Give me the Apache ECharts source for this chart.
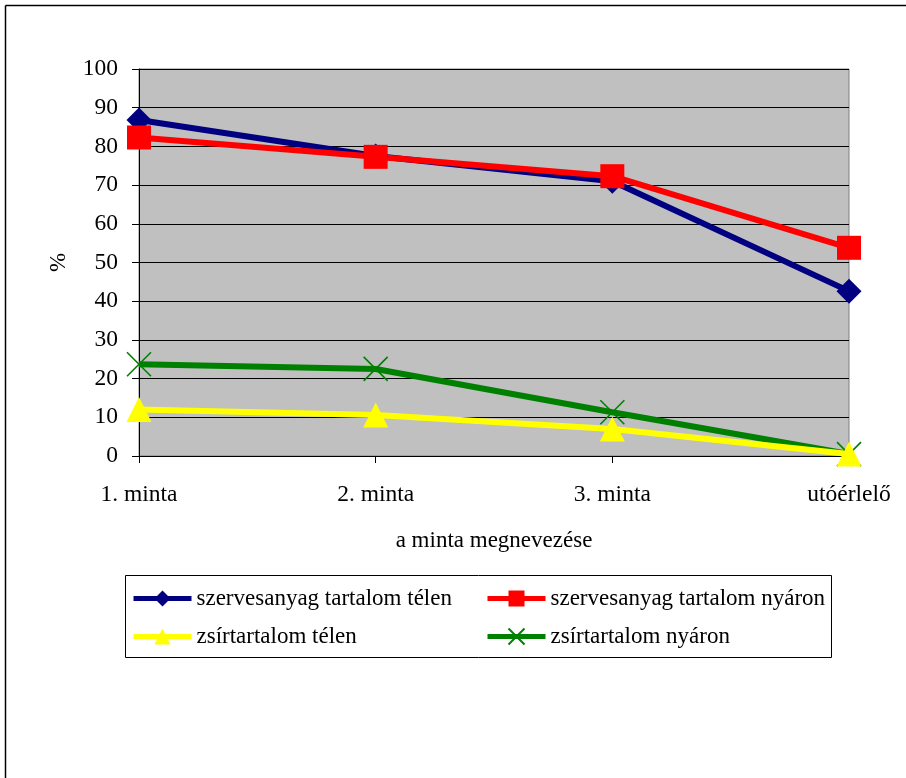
<!DOCTYPE html>
<html>
<head>
<meta charset="utf-8">
<script src="https://cdn.jsdelivr.net/npm/echarts@6/dist/echarts.min.js"></script>
<style>
  html, body { margin: 0; padding: 0; background: #fff; }
  #chart { width: 906px; height: 778px; }
</style>
</head>
<body>
<div id="chart"></div>
<script>
// Sample names along the horizontal axis
const categories = ['1. minta', '2. minta', '3. minta', 'utóérlelő'];

// Organic matter and fat content (%) per sample, winter and summer
const organicWinter = [86.8, 77.5, 71.0, 42.6];
const organicSummer = [82.3, 77.3, 72.3, 53.8];
const fatWinter = [12.0, 10.6, 7.0, 0.5];
const fatSummer = [23.7, 22.5, 11.3, 0.5];

const seriesNames = [
  'szervesanyag tartalom télen',
  'szervesanyag tartalom nyáron',
  'zsírtartalom télen',
  'zsírtartalom nyáron'
];

const serif = 'Liberation Serif, Times New Roman, serif';
const crossPath = 'path://M0,0L10,10M10,0L0,10';

function lineSeries(name, data, color, symbol, size, extra) {
  return Object.assign({
    name: name,
    type: 'line',
    data: data,
    symbol: symbol,
    symbolSize: size,
    lineStyle: { color: color, width: 6 },
    itemStyle: { color: color },
    emphasis: { disabled: true },
    animation: false,
    z: 3
  }, extra || {});
}

function legendColumn(names, left) {
  return {
    data: names,
    orient: 'vertical',
    left: left, top: 587,
    padding: 0,
    itemGap: 15,
    itemWidth: 58, itemHeight: 20,
    lineStyle: { width: 5 },
    textStyle: { color: '#000', fontSize: 23, fontFamily: serif },
    selectedMode: false
  };
}

const chart = echarts.init(document.getElementById('chart'));
chart.setOption({
  backgroundColor: '#fff',
  textStyle: { fontFamily: serif },
  graphic: [
    // outer chart frame (left and top edges visible)
    { type: 'line', shape: { x1: 5.5, y1: 5.5, x2: 5.5, y2: 778 }, style: { stroke: '#000', lineWidth: 1.5 } },
    { type: 'line', shape: { x1: 5.5, y1: 5.5, x2: 906, y2: 5.5 }, style: { stroke: '#000', lineWidth: 1.5 } },
    // legend box
    { type: 'rect', shape: { x: 125.5, y: 575.5, width: 706, height: 82 }, style: { fill: 'none', stroke: '#000', lineWidth: 1 } }
  ],
  grid: {
    left: 139, right: 57, top: 69, bottom: 322,
    show: true, backgroundColor: '#C0C0C0', borderColor: '#808080', borderWidth: 1
  },
  xAxis: {
    type: 'category',
    data: categories,
    boundaryGap: false,
    name: 'a minta megnevezése',
    nameLocation: 'middle',
    nameGap: 73,
    nameTextStyle: { color: '#000', fontSize: 23, fontFamily: serif },
    axisLine: { lineStyle: { color: '#000', width: 1 } },
    axisTick: { show: true, length: 7, lineStyle: { color: '#000' } },
    axisLabel: { color: '#000', fontSize: 23.5, fontFamily: serif, margin: 27 },
    splitLine: { show: false }
  },
  yAxis: {
    type: 'value',
    min: 0, max: 100, interval: 10,
    name: '%',
    nameLocation: 'middle',
    nameGap: 69,
    nameRotate: 90,
    nameTextStyle: { color: '#000', fontSize: 23, fontFamily: serif },
    axisLine: { show: true, lineStyle: { color: '#000', width: 1 } },
    axisTick: { show: true, length: 7, lineStyle: { color: '#000' } },
    axisLabel: { color: '#000', fontSize: 23.5, fontFamily: serif, margin: 21 },
    splitLine: { show: true, lineStyle: { color: '#000', width: 1 } }
  },
  legend: [
    legendColumn([seriesNames[0], seriesNames[2]], 131),
    legendColumn([seriesNames[1], seriesNames[3]], 485)
  ],
  series: [
    lineSeries(seriesNames[3], fatSummer, '#008000', crossPath, 24, {
      itemStyle: { color: '#008000', borderColor: '#008000', borderWidth: 1.6 }
    }),
    lineSeries(seriesNames[2], fatWinter, '#FFFF00', 'triangle', 25),
    lineSeries(seriesNames[0], organicWinter, '#000080', 'diamond', 25),
    lineSeries(seriesNames[1], organicSummer, '#FF0000', 'rect', 24)
  ]
});
</script>
</body>
</html>
